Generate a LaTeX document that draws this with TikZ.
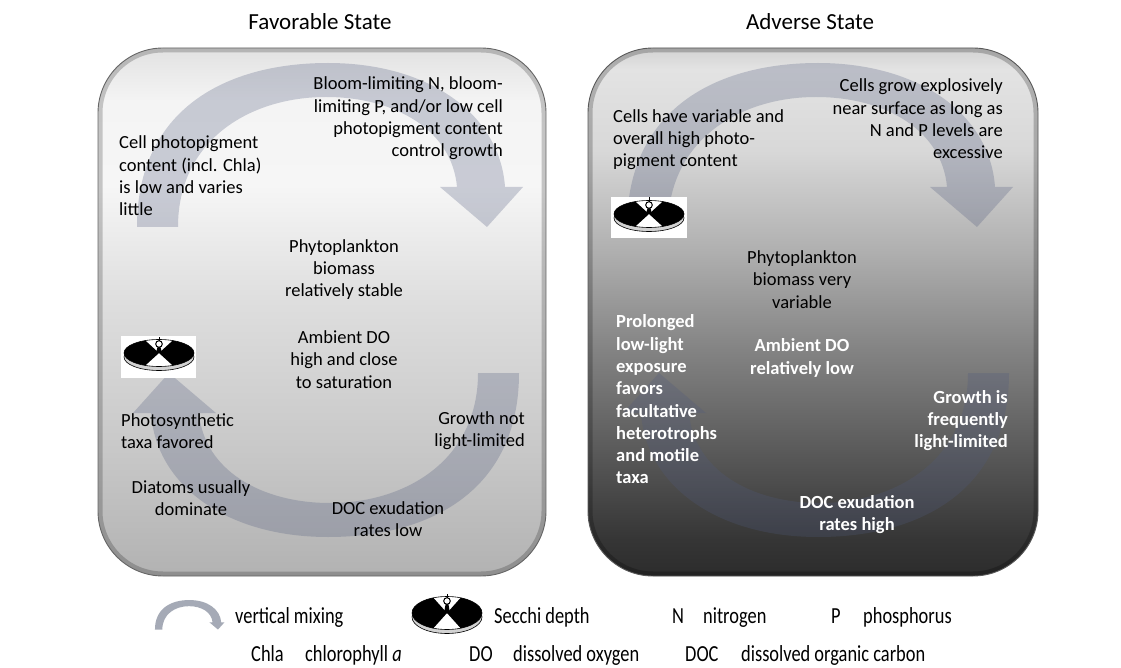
\documentclass[tikz,border=0pt]{standalone}
\usepackage{fontspec}
\setmainfont{Carlito}
\usepackage{graphicx}
\definecolor{arcc}{RGB}{80,90,125}
\definecolor{legarc}{RGB}{165,170,182}
\definecolor{favA}{HTML}{B2B2B2}
\definecolor{favB}{HTML}{C8C8C8}
\definecolor{favC}{HTML}{DEDEDE}
\definecolor{favD}{HTML}{F6F6F6}
\definecolor{favE}{HTML}{F4F4F4}
\definecolor{favF}{HTML}{E2E2E2}
\definecolor{advA}{HTML}{2C2C2C}
\definecolor{advB}{HTML}{353535}
\definecolor{advC}{HTML}{5A5A5A}
\definecolor{advD}{HTML}{838383}
\definecolor{advE}{HTML}{B0B0B0}
\definecolor{advF}{HTML}{D8D8D8}
\definecolor{advG}{HTML}{E3E3E3}
\definecolor{advH}{HTML}{D2D2D2}
\pgfdeclareverticalshading{favshade}{100bp}{color(0bp)=(favA); color(25bp)=(favA); color(37bp)=(favB); color(51bp)=(favC); color(62bp)=(favD); color(70bp)=(favE); color(75bp)=(favF); color(100bp)=(favF)}
\pgfdeclareverticalshading{advshade}{100bp}{color(0bp)=(advA); color(25bp)=(advA); color(28.4bp)=(advB); color(36.9bp)=(advC); color(46.4bp)=(advD); color(55.9bp)=(advE); color(65.3bp)=(advF); color(73bp)=(advG); color(75bp)=(advH); color(100bp)=(advH)}
\tikzset{
  lbl/.style={font=\fontsize{18.5}{22.3}\selectfont, inner sep=0pt, text=black},
  wlbl/.style={font=\fontsize{18.5}{22.3}\selectfont\bfseries, inner sep=0pt, text=white},
  ttl/.style={font=\fontsize{23}{27}\selectfont, inner sep=0pt},
  leg/.style={font=\fontsize{23}{27}\selectfont, inner sep=0pt, anchor=base west},
  mixpath/.style={insert path={(137,227) .. controls (137,110) and (225,63) .. (328,63) .. controls (430,63) and (500,115) .. (505,187) -- (523,187) -- (487,227) -- (440,187) -- (457,187) .. controls (452,130) and (395,97) .. (326,97) .. controls (250,97) and (178,140) .. (178,227) -- cycle}},
  arcfill/.style={fill=arcc, fill opacity=0.27},
  pics/secchi/.style={code={
    \fill[gray!35, draw=black, line width=0.6pt] (0,4) ellipse [x radius=35, y radius=#1];
    \fill[white] (0,0) ellipse [x radius=35, y radius=#1];
    \begin{scope}
      \clip (0,0) ellipse [x radius=35, y radius=#1];
      \fill[black] (0,0) -- (40,{2.7*#1}) -- (40,{-2.7*#1}) -- cycle;
      \fill[black] (0,0) -- (-40,{2.7*#1}) -- (-40,{-2.7*#1}) -- cycle;
    \end{scope}
    \draw[black, line width=0.6pt] (0,0) ellipse [x radius=35, y radius=#1];
    \fill[black] (-3,0) -- (3,0) -- (1.3,{-(#1-7)}) -- (-1.3,{-(#1-7)}) -- cycle;
    \draw[black, line width=1pt, fill=white] (0,{-(#1-4.5)}) circle [radius=3.3];
    \draw[black, line width=0.9pt] (0,{-(#1-1.2)}) -- (0,{-(#1+3)});
  }}
}
\begin{document}
\begin{tikzpicture}[x=1pt,y=-1pt]
\useasboundingbox (0,0) rectangle (1121,668);
\fill[white] (0,0) rectangle (1121,668);

% titles
\node[ttl] (t1) at (320,22) {Favorable State};
\node[ttl] (t2) at (810,22) {Adverse State};

% left panel
\shade[shading=favshade, rounded corners=65pt] (98,48) rectangle (546,576);
\begin{scope}
  \clip[rounded corners=65pt] (98,48) rectangle (546,576);
  \draw[black, opacity=0.2, line width=9pt, rounded corners=65pt] (98,48) rectangle (546,576);
\end{scope}
\draw[rounded corners=65pt, draw=black!60, line width=0.9pt] (98,48) rectangle (546,576);
\fill[arcfill, mixpath];
\fill[arcfill, rotate around={180:(328,300)}, mixpath];

% right panel
\shade[shading=advshade, rounded corners=65pt] (588,48) rectangle (1038,576);
\begin{scope}
  \clip[rounded corners=65pt] (588,48) rectangle (1038,576);
  \draw[black, opacity=0.22, line width=9pt, rounded corners=65pt] (588,48) rectangle (1038,576);
\end{scope}
\draw[rounded corners=65pt, draw=black!65, line width=0.9pt] (588,48) rectangle (1038,576);
\fill[arcfill, shift={(490,0)}, mixpath];
\fill[arcfill, shift={(490,0)}, rotate around={180:(328,300)}, mixpath];

% secchi disks in panels
\fill[white] (121,336) rectangle (196,378);
\pic (s1) at (159,353) {secchi=13.5};
\fill[white] (611,197) rectangle (687,238);
\pic (s2) at (649,214) {secchi=13.5};

% left panel texts
\node[lbl, align=right, anchor=east] (l1) at (503,118.5) {Bloom-limiting N, bloom-\\limiting P, and/or low cell\\photopigment content\\control growth};
\node[lbl, align=left, anchor=west] (l2) at (119,176) {Cell photopigment\\content (incl. Chla)\\is low and varies\\little};
\node[lbl, align=center] (l3) at (344,269.5) {Phytoplankton\\biomass\\relatively stable};
\node[lbl, align=center] (l4) at (344,359.5) {Ambient DO\\high and close\\to saturation};
\node[lbl, align=left, anchor=west] (l5) at (121,431) {Photosynthetic\\taxa favored};
\node[lbl, align=right, anchor=east] (l6) at (525,431) {Growth not\\light-limited};
\node[lbl, align=center] (l7) at (191,498) {Diatoms usually\\dominate};
\node[lbl, align=center] (l8) at (388,519) {DOC exudation\\rates low};

% right panel texts
\node[lbl, align=right, anchor=east] (r1) at (1003,119) {Cells grow explosively\\near surface as long as\\N and P levels are\\excessive};
\node[lbl, align=left, anchor=west] (r2) at (613,139.5) {Cells have variable and\\overall high photo-\\pigment content};
\node[lbl, align=center] (r3) at (802,279.5) {Phytoplankton\\biomass very\\variable};
\node[wlbl, align=left, anchor=west] (r4) at (616,399.5) {Prolonged\\low-light\\exposure\\favors\\facultative\\heterotrophs\\and motile\\taxa};
\node[wlbl, align=center] (r5) at (802,358) {Ambient DO\\relatively low};
\node[wlbl, align=right, anchor=east] (r6) at (1008,420.5) {Growth is\\frequently\\light-limited};
\node[wlbl, align=center] (r7) at (857,514.5) {DOC exudation\\rates high};

% legend
\fill[legarc, shift={(130.3,588.7)}, scale=0.18, mixpath];
\pic (s3) at (447,613) {secchi=16.5};
\node[leg] (g1) at (235,623) {\scalebox{0.8}[1]{vertical mixing}};
\node[leg] (g2) at (494,623) {\scalebox{0.8}[1]{Secchi depth}};
\node[leg] (g3) at (672,623) {\scalebox{0.8}[1]{N}};
\node[leg] (g4) at (703,623) {\scalebox{0.8}[1]{nitrogen}};
\node[leg] (g5) at (831,623) {\scalebox{0.8}[1]{P}};
\node[leg] (g6) at (863,623) {\scalebox{0.8}[1]{phosphorus}};
\node[leg] (g7) at (251,661) {\scalebox{0.8}[1]{Chla}};
\node[leg] (g8) at (305,661) {\scalebox{0.8}[1]{chlorophyll \textit{a}}};
\node[leg] (g9) at (469,661) {\scalebox{0.8}[1]{DO}};
\node[leg] (g10) at (513,661) {\scalebox{0.8}[1]{dissolved oxygen}};
\node[leg] (g11) at (685,661) {\scalebox{0.8}[1]{DOC}};
\node[leg] (g12) at (741,661) {\scalebox{0.8}[1]{dissolved organic carbon}};
\end{tikzpicture}
\end{document}
